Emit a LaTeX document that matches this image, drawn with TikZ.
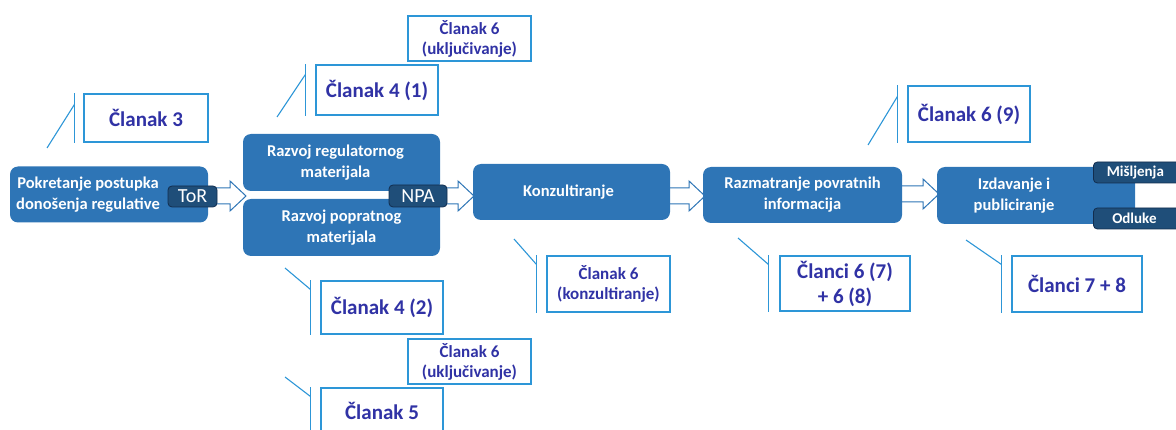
\documentclass[tikz,border=0pt]{standalone}
\usepackage{fontspec}
\setmainfont{Carlito}
\definecolor{boxblue}{RGB}{46,117,182}
\definecolor{lbl}{RGB}{31,78,121}
\definecolor{lbldark}{RGB}{18,45,78}
\definecolor{calloutline}{RGB}{45,150,215}
\definecolor{callouttext}{RGB}{48,50,165}
\definecolor{arrowline}{RGB}{46,117,182}
\tikzset{
  stage/.style={draw=none, fill=boxblue, rounded corners=8pt, text=white,
    font=\bfseries\fontsize{16.5}{21}\selectfont, align=center, inner sep=0pt},
  tag/.style={draw=lbldark, line width=0.8pt, fill=lbl, rounded corners=4pt, text=white, inner sep=0pt},
  callout/.style={draw=calloutline, line width=1.1pt, fill=white, text=callouttext,
    font=\bfseries\fontsize{21}{25}\selectfont, align=center, inner sep=0pt},
  smallcallout/.style={callout, font=\bfseries\fontsize{17}{20}\selectfont},
  cline/.style={draw=calloutline, line width=1.1pt},
  blockarrow/.style={draw=arrowline, line width=1pt, fill=white, line join=miter}
}
\newcommand{\blockarr}[3]{% x start, x end, y center
  \draw[blockarrow] (#1,#3-8) -- (#2-16,#3-8) -- (#2-16,#3-15) -- (#2,#3) -- (#2-16,#3+15) -- (#2-16,#3+8) -- (#1,#3+8) -- cycle;}
\begin{document}
\begin{tikzpicture}[x=1pt,y=-1pt]
\useasboundingbox (0,0) rectangle (1176,430);
\clip (0,0) rectangle (1176,430);

% block arrows (behind boxes)
\blockarr{205}{246}{196}
\blockarr{435}{474}{196}
\blockarr{665}{705}{196}
\blockarr{895}{939}{194}

% main stages
\node[stage, minimum width=198pt, minimum height=56pt] (s1) at (109,194.5) {Pokretanje postupka\hspace*{42pt}\\donošenja regulative\hspace*{42pt}};
\node[stage, minimum width=197pt, minimum height=57pt] (s2a) at (341.5,162.5) {Razvoj regulatornog\hspace*{12pt}\\materijala\hspace*{12pt}};
\node[stage, minimum width=197pt, minimum height=57pt] (s2b) at (341.5,227.5) {Razvoj popratnog\\materijala};
\node[stage, minimum width=197pt, minimum height=56pt] (s3) at (571.5,192) {Konzultiranje\hspace*{6pt}};
\node[stage, minimum width=199pt, minimum height=56pt] (s4) at (802.5,195) {Razmatranje povratnih\\informacija};
\node[stage, minimum width=198pt, minimum height=57pt] (s5) at (1036,195.5) {Izdavanje i\hspace*{44pt}\\publiciranje\hspace*{44pt}};

% tags
\node[tag, minimum width=49pt, minimum height=21pt, font=\fontsize{20}{20}\selectfont] (tor) at (192.5,196.5) {ToR};
\node[tag, minimum width=58pt, minimum height=22pt, font=\fontsize{20}{20}\selectfont] (npa) at (418,196) {NPA};
\node[tag, minimum width=92pt, minimum height=21pt, anchor=west, font=\bfseries\fontsize{15}{15}\selectfont] (misl) at (1093,172.5) {Mišljenja\hspace*{8pt}};
\node[tag, minimum width=92pt, minimum height=21pt, anchor=west, font=\bfseries\fontsize{15}{15}\selectfont] (odl) at (1093,218.5) {Odluke\hspace*{10pt}};

% callouts
\node[callout, minimum width=124pt, minimum height=48pt] (c3) at (146,118) {Članak 3};
\node[smallcallout, minimum width=123pt, minimum height=45pt] (c6a) at (469.5,38.5) {Članak 6\\(uključivanje)};
\node[callout, minimum width=122pt, minimum height=50pt] (c41) at (377,90) {Članak 4 (1)};
\node[callout, minimum width=122pt, minimum height=53pt] (c42) at (382,307.5) {Članak 4 (2)};
\node[smallcallout, minimum width=123pt, minimum height=45pt] (c6b) at (469.5,361.5) {Članak 6\\(uključivanje)};
\node[callout, minimum width=122pt, minimum height=54pt] (c5) at (382,415) {\raisebox{8pt}{Članak 5}};
\node[smallcallout, minimum width=123pt, minimum height=56pt] (c6k) at (608.5,284) {Članak 6\\(konzultiranje)};
\node[callout, minimum width=130pt, minimum height=55pt] (c678) at (845,283.5) {Članci 6 (7)\\+ 6 (8)};
\node[callout, minimum width=122pt, minimum height=56pt] (c69) at (969,114) {Članak 6 (9)};
\node[callout, minimum width=130pt, minimum height=56pt] (c78) at (1077,284) {Članci 7 + 8};

% callout leader lines
\coordinate (p3) at (47,148);
\draw[cline] ([xshift=-9pt]c3.north west) -- ([xshift=-9pt]c3.south west);
\draw[cline] ([xshift=-9pt,yshift=-11pt]c3.north west) -- (p3);

\coordinate (p41) at (277,117);
\draw[cline] ([xshift=-10pt]c41.north west) -- ([xshift=-10pt]c41.south west);
\draw[cline] ([xshift=-10pt,yshift=-10pt]c41.north west) -- (p41);

\coordinate (p42) at (285,268);
\draw[cline] ([xshift=-10pt]c42.north west) -- ([xshift=-10pt]c42.south west);
\draw[cline] ([xshift=-10pt,yshift=-9pt]c42.north west) -- (p42);

\coordinate (p5) at (285,377);
\draw[cline] ([xshift=-10pt]c5.north west) -- ([xshift=-10pt]c5.south west);
\draw[cline] ([xshift=-10pt,yshift=-9pt]c5.north west) -- (p5);

\coordinate (p6k) at (514,239);
\draw[cline] ([xshift=-10pt]c6k.north west) -- ([xshift=-10pt]c6k.south west);
\draw[cline] ([xshift=-10pt,yshift=-9pt]c6k.north west) -- (p6k);

\coordinate (p678) at (738,238);
\draw[cline] ([xshift=-11pt]c678.north west) -- ([xshift=-11pt]c678.south west);
\draw[cline] ([xshift=-11pt,yshift=-9pt]c678.north west) -- (p678);

\coordinate (p69) at (868,145);
\draw[cline] ([xshift=-10pt]c69.north west) -- ([xshift=-10pt]c69.south west);
\draw[cline] ([xshift=-10pt,yshift=-11pt]c69.north west) -- (p69);

\coordinate (p78) at (966,240);
\draw[cline] ([xshift=-10pt]c78.north west) -- ([xshift=-10pt]c78.south west);
\draw[cline] ([xshift=-10pt,yshift=-9pt]c78.north west) -- (p78);
\end{tikzpicture}
\end{document}
